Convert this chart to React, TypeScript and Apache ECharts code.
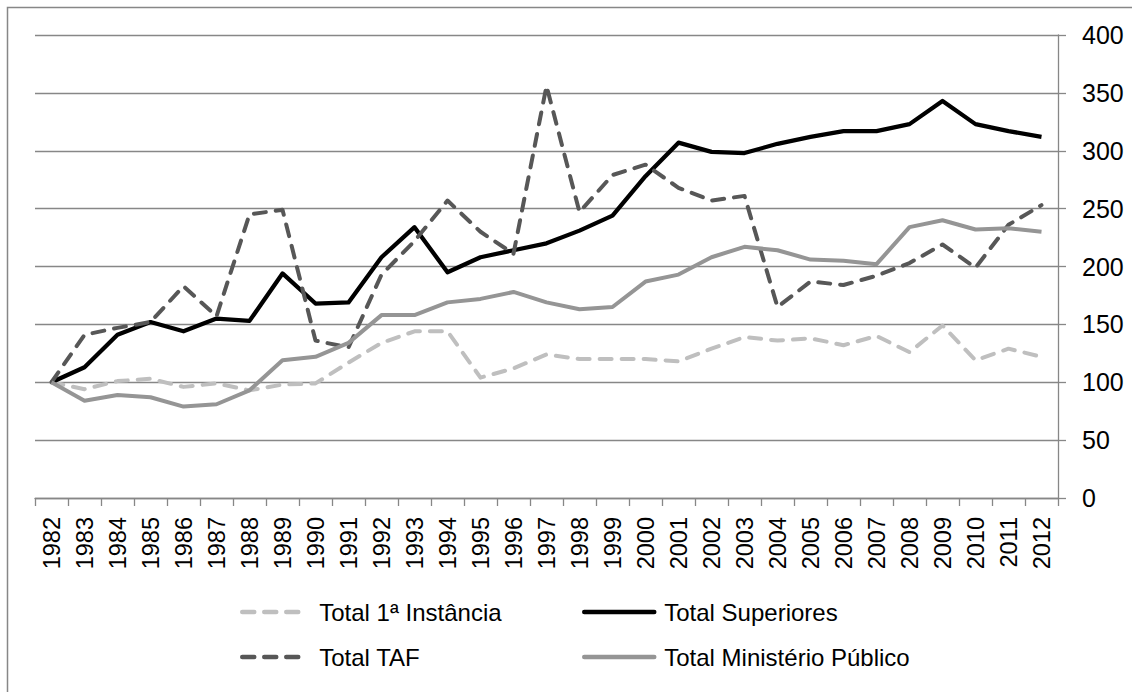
import React, { useEffect, useRef } from "react";
import * as echarts from "echarts";

const years = [
  "1982", "1983", "1984", "1985", "1986", "1987", "1988", "1989", "1990", "1991",
  "1992", "1993", "1994", "1995", "1996", "1997", "1998", "1999", "2000", "2001",
  "2002", "2003", "2004", "2005", "2006", "2007", "2008", "2009", "2010", "2011", "2012",
];

const primeiraInstancia = [
  100, 94, 101, 103, 96, 99, 93, 98, 99, 117,
  134, 144, 144, 104, 112, 124, 120, 120, 120, 118,
  129, 139, 136, 138, 132, 140, 126, 149, 119, 129, 122,
];

const superiores = [
  100, 113, 141, 152, 144, 155, 153, 194, 168, 169,
  208, 234, 195, 208, 214, 220, 231, 244, 278, 307,
  299, 298, 306, 312, 317, 317, 323, 343, 323, 317, 312,
];

const taf = [
  100, 141, 147, 152, 183, 157, 245, 249, 136, 130,
  193, 222, 257, 230, 211, 356, 247, 279, 288, 268,
  257, 261, 165, 187, 184, 192, 203, 219, 199, 236, 253,
];

const ministerioPublico = [
  100, 84, 89, 87, 79, 81, 93, 119, 122, 134,
  158, 158, 169, 172, 178, 169, 163, 165, 187, 193,
  208, 217, 214, 206, 205, 202, 234, 240, 232, 233, 230,
];

const yTicks = { min: 0, max: 400, interval: 50 };

const FONT = "'Liberation Sans', Arial, sans-serif";
const GRID_GRAY = "#878787";

export default function App() {
  const ref = useRef<HTMLDivElement>(null);

  useEffect(() => {
    if (!ref.current) return;
    const chart = echarts.init(ref.current, undefined, { renderer: "svg" });

    const dashed = (name: string, data: number[], color: string) => ({
      name,
      type: "line",
      data,
      symbol: "none",
      showSymbol: false,
      lineStyle: { color, width: 4, type: [12, 10], cap: "round", join: "round" },
      itemStyle: { color },
      z: 3,
    });
    const solid = (name: string, data: number[], color: string, width: number) => ({
      name,
      type: "line",
      data,
      symbol: "none",
      showSymbol: false,
      lineStyle: { color, width, type: "solid", cap: "butt", join: "round" },
      itemStyle: { color },
      z: 3,
    });

    const legendText = { fontFamily: FONT, fontSize: 24, color: "#000" };
    const legendBase = {
      orient: "horizontal",
      itemHeight: 10,
      selectedMode: false,
      lineStyle: { width: 4.5, cap: "round" },
      // hide the marker dot that line legends draw by default
      itemStyle: { opacity: 0 },
    };

    chart.setOption({
      animation: false,
      backgroundColor: "#fff",
      textStyle: { fontFamily: FONT },
      grid: { left: 35, right: 74, top: 35, bottom: 194, containLabel: false },
      legend: [
        { ...legendBase, data: ["Total 1ª Instância"], left: 235, top: 595, itemWidth: 62,
          textStyle: { ...legendText, padding: [0, 0, 0, 10] } },
        { ...legendBase, data: ["Total Superiores"], left: 577, top: 595, itemWidth: 70,
          textStyle: { ...legendText, padding: [0, 0, 0, 5] } },
        { ...legendBase, data: ["Total TAF"], left: 235, top: 640, itemWidth: 62,
          textStyle: { ...legendText, padding: [0, 0, 0, 10] } },
        { ...legendBase, data: ["Total Ministério Público"], left: 577, top: 640, itemWidth: 70,
          textStyle: { ...legendText, padding: [0, 0, 0, 5] } },
      ],
      xAxis: {
        type: "category",
        data: years,
        boundaryGap: true,
        axisLine: { show: true, lineStyle: { color: GRID_GRAY, width: 1.3 } },
        axisTick: { show: true, length: 8, alignWithLabel: false, lineStyle: { color: GRID_GRAY, width: 1.3 } },
        axisLabel: {
          rotate: 90,
          margin: 19,
          interval: 0,
          fontFamily: FONT,
          fontSize: 23.5,
          color: "#000",
        },
        splitLine: { show: false },
      },
      yAxis: {
        type: "value",
        position: "right",
        min: yTicks.min,
        max: yTicks.max,
        interval: yTicks.interval,
        axisLine: { show: true, lineStyle: { color: GRID_GRAY, width: 1.3 } },
        axisTick: { show: true, length: 8, lineStyle: { color: GRID_GRAY, width: 1.3 } },
        axisLabel: { margin: 24, fontFamily: FONT, fontSize: 25, color: "#000" },
        splitLine: { show: true, lineStyle: { color: GRID_GRAY, width: 1.3 } },
      },
      graphic: [
        {
          type: "rect",
          left: 5,
          top: 5,
          shape: { x: 0, y: 0, width: 1140, height: 700 },
          style: { fill: "none", stroke: GRID_GRAY, lineWidth: 1.5 },
          silent: true,
          z: -1,
        },
      ],
      series: [
        dashed("Total 1ª Instância", primeiraInstancia, "#bfbfbf"),
        solid("Total Superiores", superiores, "#000000", 4.25),
        dashed("Total TAF", taf, "#575757"),
        solid("Total Ministério Público", ministerioPublico, "#959595", 4),
      ],
    });

    return () => chart.dispose();
  }, []);

  return (
    <div
      ref={ref}
      style={{ position: "fixed", left: 0, top: 0, width: 1132, height: 692, background: "#fff" }}
    />
  );
}
